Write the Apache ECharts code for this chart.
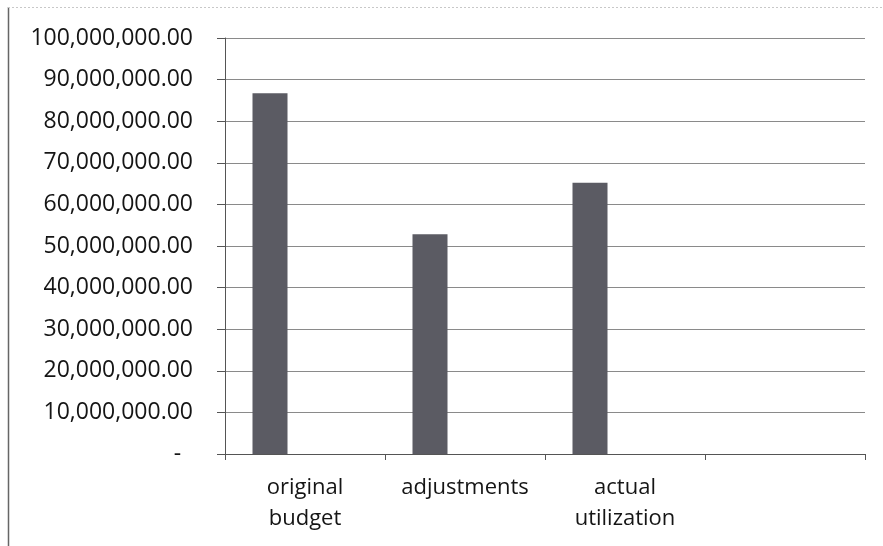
<!DOCTYPE html>
<html>
<head>
<meta charset="utf-8">
<script src="https://cdn.jsdelivr.net/npm/echarts@6/dist/echarts.min.js"></script>
<style>
html,body{margin:0;padding:0;background:#fff;}
#chart{width:883px;height:546px;}
</style>
</head>
<body>
<div id="chart"></div>
<script>
const categories = ['original\nbudget', 'adjustments', 'actual\nutilization', ''];
const budgetValues = [86700000, 52800000, 65200000, null];
const emptySeries2 = [null, null, null, null];
const emptySeries3 = [null, null, null, null];
const yMin = 0, yMax = 100000000, yStep = 10000000;

function fmt(v) {
  if (v === 0) return '-  ';
  const s = Math.round(v).toString().replace(/\B(?=(\d{3})+(?!\d))/g, ',');
  return s + '.00';
}

const chart = echarts.init(document.getElementById('chart'));
const font = '"Open Sans", "Liberation Sans", sans-serif';
chart.setOption({
  animation: false,
  backgroundColor: '#fff',
  grid: { left: 225, right: 18, top: 38, bottom: 92, containLabel: false },
  xAxis: {
    type: 'category',
    data: categories,
    axisLine: { show: true, lineStyle: { color: '#555', width: 1 } },
    axisTick: { show: true, length: 6, alignWithLabel: false, lineStyle: { color: '#555' } },
    axisLabel: { color: '#151515', fontSize: 22, fontFamily: font, lineHeight: 31, margin: 18, interval: 0 },
    splitLine: { show: false }
  },
  yAxis: {
    type: 'value',
    min: yMin, max: yMax, interval: yStep,
    axisLine: { show: true, lineStyle: { color: '#555', width: 1 } },
    axisTick: { show: true, length: 8, lineStyle: { color: '#555' } },
    axisLabel: { color: '#151515', fontSize: 23, fontFamily: font, margin: 32, formatter: fmt },
    splitLine: { show: true, lineStyle: { color: '#8a8a8a', width: 1 } }
  },
  graphic: [
    { type: 'line', shape: { x1: 8.5, y1: 7, x2: 8.5, y2: 546 }, style: { stroke: '#666', lineWidth: 1.5 } },
    { type: 'line', shape: { x1: 8, y1: 7.5, x2: 883, y2: 7.5 }, style: { stroke: '#c8c8c8', lineWidth: 1, lineDash: [2, 2] } }
  ],
  series: [
    { type: 'bar', data: budgetValues, barWidth: 35, barGap: '0%', itemStyle: { color: '#5b5b63' } },
    { type: 'bar', data: emptySeries2, barWidth: 35, barGap: '0%', itemStyle: { color: '#5b5b63' } },
    { type: 'bar', data: emptySeries3, barWidth: 35, barGap: '0%', itemStyle: { color: '#5b5b63' } }
  ]
});
</script>
</body>
</html>
